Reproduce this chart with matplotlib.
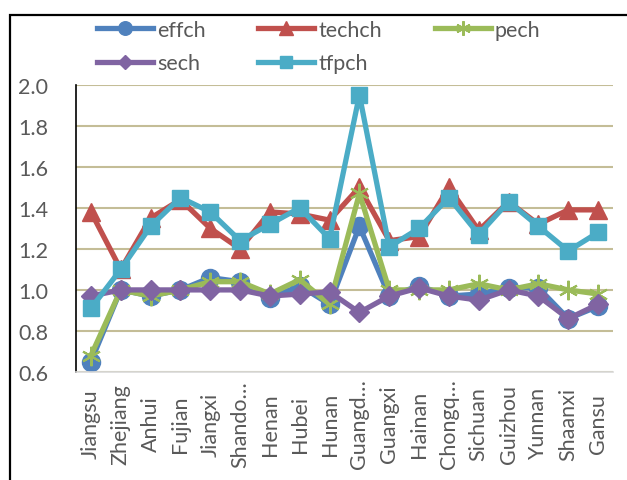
import matplotlib
matplotlib.use("Agg")
import matplotlib.pyplot as plt
from matplotlib.patches import Rectangle

# provinces along the x axis (labels cut off as in the source chart)
provinces = ['Jiangsu', 'Zhejiang', 'Anhui', 'Fujian', 'Jiangxi', 'Shando\u2026',
             'Henan', 'Hubei', 'Hunan', 'Guangd\u2026', 'Guangxi', 'Hainan',
             'Chongq\u2026', 'Sichuan', 'Guizhou', 'Yunnan', 'Shaanxi', 'Gansu']

effch = [0.65, 1.00, 0.97, 1.00, 1.06, 1.04, 0.96, 1.02, 0.93, 1.31,
         0.97, 1.02, 0.97, 0.98, 1.01, 1.01, 0.86, 0.92]
techch = [1.38, 1.10, 1.35, 1.44, 1.30, 1.20, 1.38, 1.37, 1.34, 1.50,
          1.24, 1.26, 1.50, 1.29, 1.43, 1.32, 1.39, 1.39]
pech = [0.68, 1.00, 0.97, 1.00, 1.04, 1.04, 0.98, 1.05, 0.93, 1.47,
        1.00, 1.00, 1.00, 1.03, 1.00, 1.03, 1.00, 0.98]
sech = [0.97, 1.00, 1.00, 1.00, 1.00, 1.00, 0.97, 0.98, 0.99, 0.89,
        0.97, 1.01, 0.97, 0.95, 1.00, 0.97, 0.86, 0.93]
tfpch = [0.91, 1.10, 1.31, 1.45, 1.38, 1.24, 1.32, 1.40, 1.25, 1.95,
         1.21, 1.30, 1.45, 1.27, 1.43, 1.31, 1.19, 1.28]

yticks = [0.6, 0.8, 1.0, 1.2, 1.4, 1.6, 1.8, 2.0]

plt.rcParams['font.family'] = ['Lato', 'DejaVu Sans']
text_col = '#595959'

fig = plt.figure(figsize=(6.27, 4.81), dpi=100)
ax = fig.add_axes([76 / 627, 1 - 373 / 481, 537 / 627, 287.3 / 481])

x = range(len(provinces))
lw = 3.8
lines = {}
lines['effch'], = ax.plot(x, effch, color='#4F81BD', lw=lw, marker='o', ms=13, label='effch')
lines['techch'], = ax.plot(x, techch, color='#C0504D', lw=lw, marker='^', ms=13, label='techch')
lines['pech'], = ax.plot(x, pech, color='#9BBB59', lw=lw, marker=(6, 2, 0), ms=14,
                         mew=1.5, mec='#9BBB59', label='pech')
lines['sech'], = ax.plot(x, sech, color='#8064A2', lw=lw, marker='D', ms=10, label='sech')
lines['tfpch'], = ax.plot(x, tfpch, color='#4BACC6', lw=lw, marker='s', ms=12, label='tfpch')

ax.set_xlim(-0.5, len(provinces) - 0.5)
ax.set_ylim(0.6, 2.0)
ax.set_yticks(yticks)
ax.set_yticklabels([f'{v:.1f}' for v in yticks])
ax.set_xticks(list(x))
ax.set_xticklabels(provinces, rotation=90)
for lab in ax.get_xticklabels():
    lab.set_va('center')

ax.grid(axis='y', color='#C4BD97', lw=1.5)
ax.set_axisbelow(True)
ax.tick_params(axis='y', length=0, pad=20, labelsize=15.5, labelcolor=text_col)
ax.tick_params(axis='x', length=0, pad=37, labelsize=15.5, labelcolor=text_col)
for s in ['top', 'right']:
    ax.spines[s].set_visible(False)
ax.spines['left'].set_color('#000000')
ax.spines['left'].set_linewidth(1.2)
ax.spines['bottom'].set_color('#D9D9D9')
ax.spines['bottom'].set_linewidth(1.2)

# legend: two rows, filled row by row
order = ['effch', 'sech', 'techch', 'tfpch', 'pech']
fig.legend([lines[k] for k in order], order, ncol=3, loc='upper left',
           bbox_to_anchor=(97 / 627, 1 - 21 / 481), frameon=False,
           borderpad=0, borderaxespad=0,
           fontsize=15.5, labelcolor=text_col, handlelength=2.6, handletextpad=0.19,
           columnspacing=2.45, labelspacing=0.62, markerscale=0.75)

# outer chart frame (runs off the right and bottom edges)
fig.patches.append(Rectangle((10 / 627, -0.05), 1.2, 1 - 16 / 481 + 0.05,
                             transform=fig.transFigure, fill=False,
                             edgecolor='black', lw=1.6))

fig.savefig('out.png', dpi=100)
